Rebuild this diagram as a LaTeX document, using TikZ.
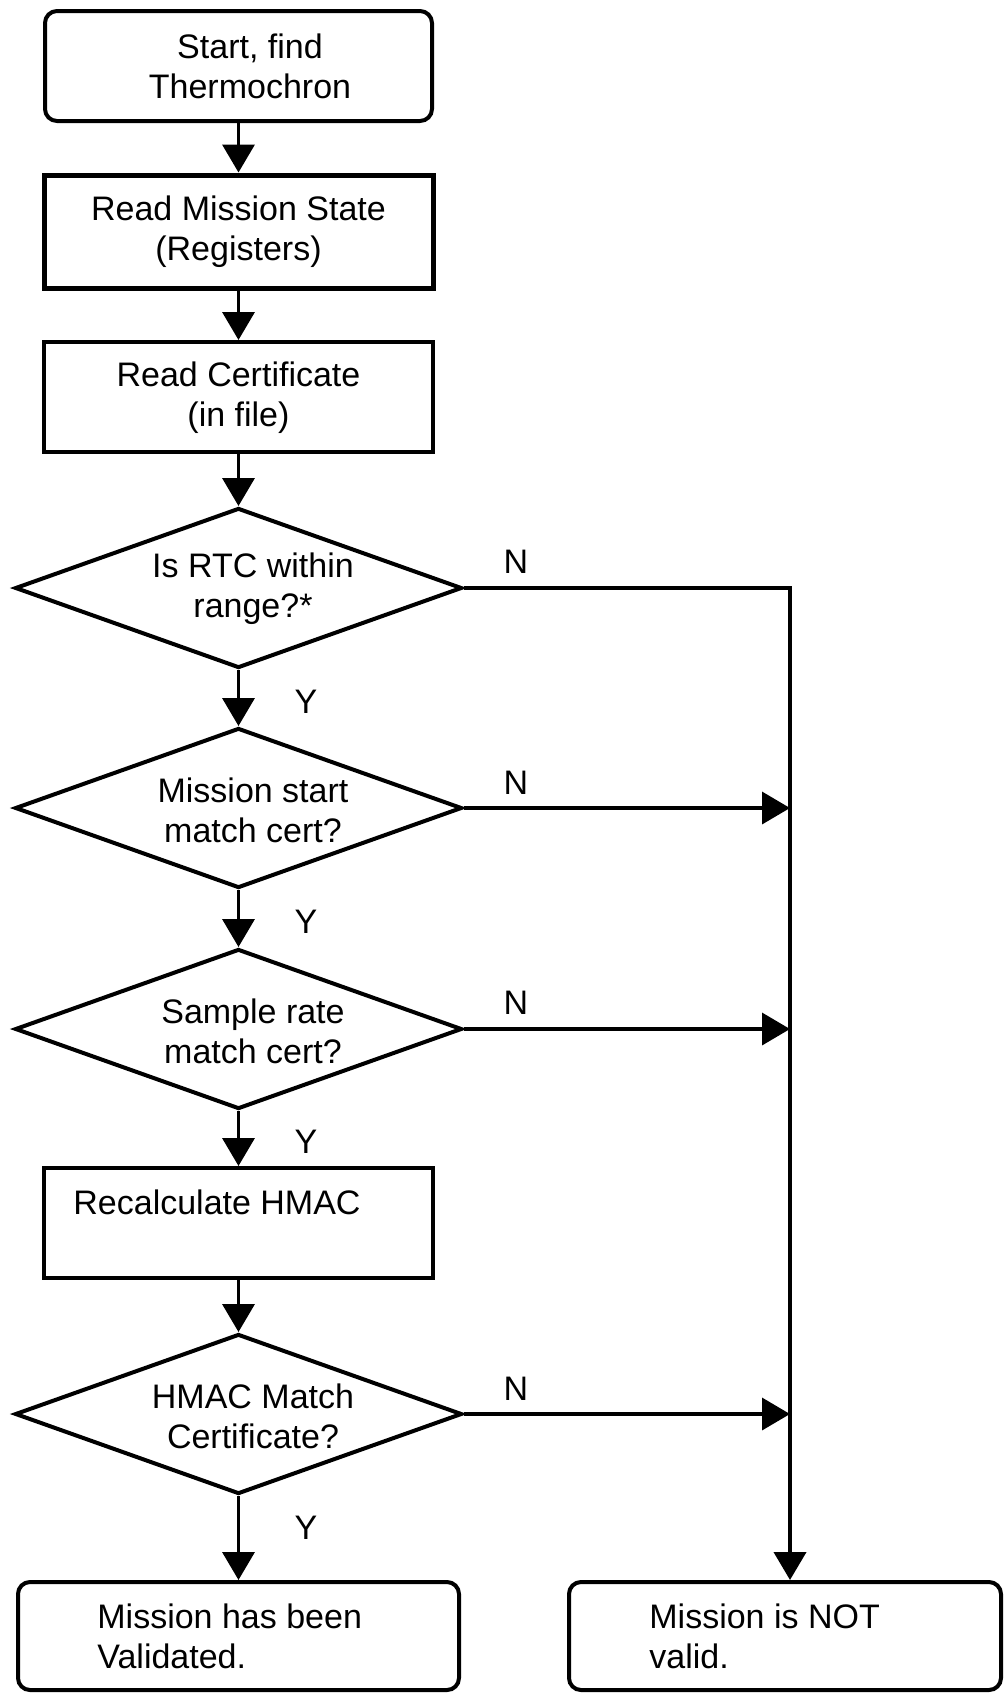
\documentclass[tikz,border=0pt]{standalone}
\usepackage{fontspec}
\setmainfont{Liberation Sans}
\usetikzlibrary{shapes.geometric,arrows.meta}
\tikzset{
  base/.style={draw, line width=2pt, inner sep=0pt},
  termbox/.style={base, rounded corners=6pt},
  procbox/.style={base},
  decbox/.style={base, diamond, minimum width=223.5pt, minimum height=80pt},
  txt/.style={inner sep=0pt, font=\fontsize{17}{20}\selectfont, align=center},
  ltxt/.style={txt, align=left, anchor=west},
  yn/.style={inner sep=0pt, font=\fontsize{17}{20}\selectfont},
  conn/.style={line width=1.8pt},
  arr/.style={conn, -{Triangle[width=16pt,length=14pt]}}
}
\begin{document}
\begin{tikzpicture}[x=0.5pt, y=-0.5pt]
\useasboundingbox (0,0) rectangle (1003,1693);
% boxes
\node[termbox, minimum width=193.5pt, minimum height=55pt] (start) at (238.5,66) {};
\node[txt] (starttxt) at (250,66) {Start, find\\Thermochron};
\node[procbox, line width=2.5pt, minimum width=194.5pt, minimum height=56.5pt] (state) at (238.5,231.5) {};
\node[txt] (statetxt) at (238.5,232) {Read Mission State\\(Registers)};
\node[procbox, minimum width=194.5pt, minimum height=55pt] (cert) at (238.5,397) {};
\node[txt] (certtxt) at (238.5,398) {Read Certificate\\(in file)};
% decisions
\node[decbox] (d1) at (238.5,588) {};
\node[txt] (d1txt) at (253,589) {Is RTC within\\range?*};
\node[decbox] (d2) at (238.5,808) {};
\node[txt] (d2txt) at (253,810) {Mission start\\match cert?};
\node[decbox] (d3) at (238.5,1029) {};
\node[txt] (d3txt) at (253,1031) {Sample rate\\match cert?};
\node[procbox, minimum width=194.5pt, minimum height=55pt] (recalc) at (238.5,1223) {};
\node[ltxt] (recalctxt) at (73,1202) {Recalculate HMAC};
\node[decbox] (d4) at (238.5,1414) {};
\node[txt] (d4txt) at (253,1416) {HMAC Match\\Certificate?};
% results
\node[termbox, minimum width=220.5pt, minimum height=54pt] (good) at (238.5,1636) {};
\node[ltxt] (goodtxt) at (97,1636) {Mission has been\\Validated.};
\node[termbox, minimum width=216pt, minimum height=54pt] (bad) at (785,1636) {};
\node[ltxt] (badtxt) at (649,1636) {Mission is NOT\\valid.};
% main flow
\draw[arr] (start) -- (state);
\draw[arr] (state) -- (cert);
\draw[arr] (cert) -- (d1);
\draw[arr] (d1) -- (d2);
\draw[arr] (d2) -- (d3);
\draw[arr] (d3) -- (recalc);
\draw[arr] (recalc) -- (d4);
\draw[arr] (d4) -- (good);
% N branches
\coordinate (j1) at (790,588);
\draw[arr, line width=2pt] (d1.east) -- (j1) -- (j1 |- bad.north);
\draw[arr] (d2.east) -- (d2.east -| j1);
\draw[arr] (d3.east) -- (d3.east -| j1);
\draw[arr] (d4.east) -- (d4.east -| j1);
% labels
\node[yn] (n1) at (516,562) {N};
\node[yn] (n2) at (516,783) {N};
\node[yn] (n3) at (516,1003) {N};
\node[yn] (n4) at (516,1389) {N};
\node[yn] (y1) at (306,702) {Y};
\node[yn] (y2) at (306,922) {Y};
\node[yn] (y3) at (306,1142) {Y};
\node[yn] (y4) at (306,1528) {Y};
\end{tikzpicture}
\end{document}
